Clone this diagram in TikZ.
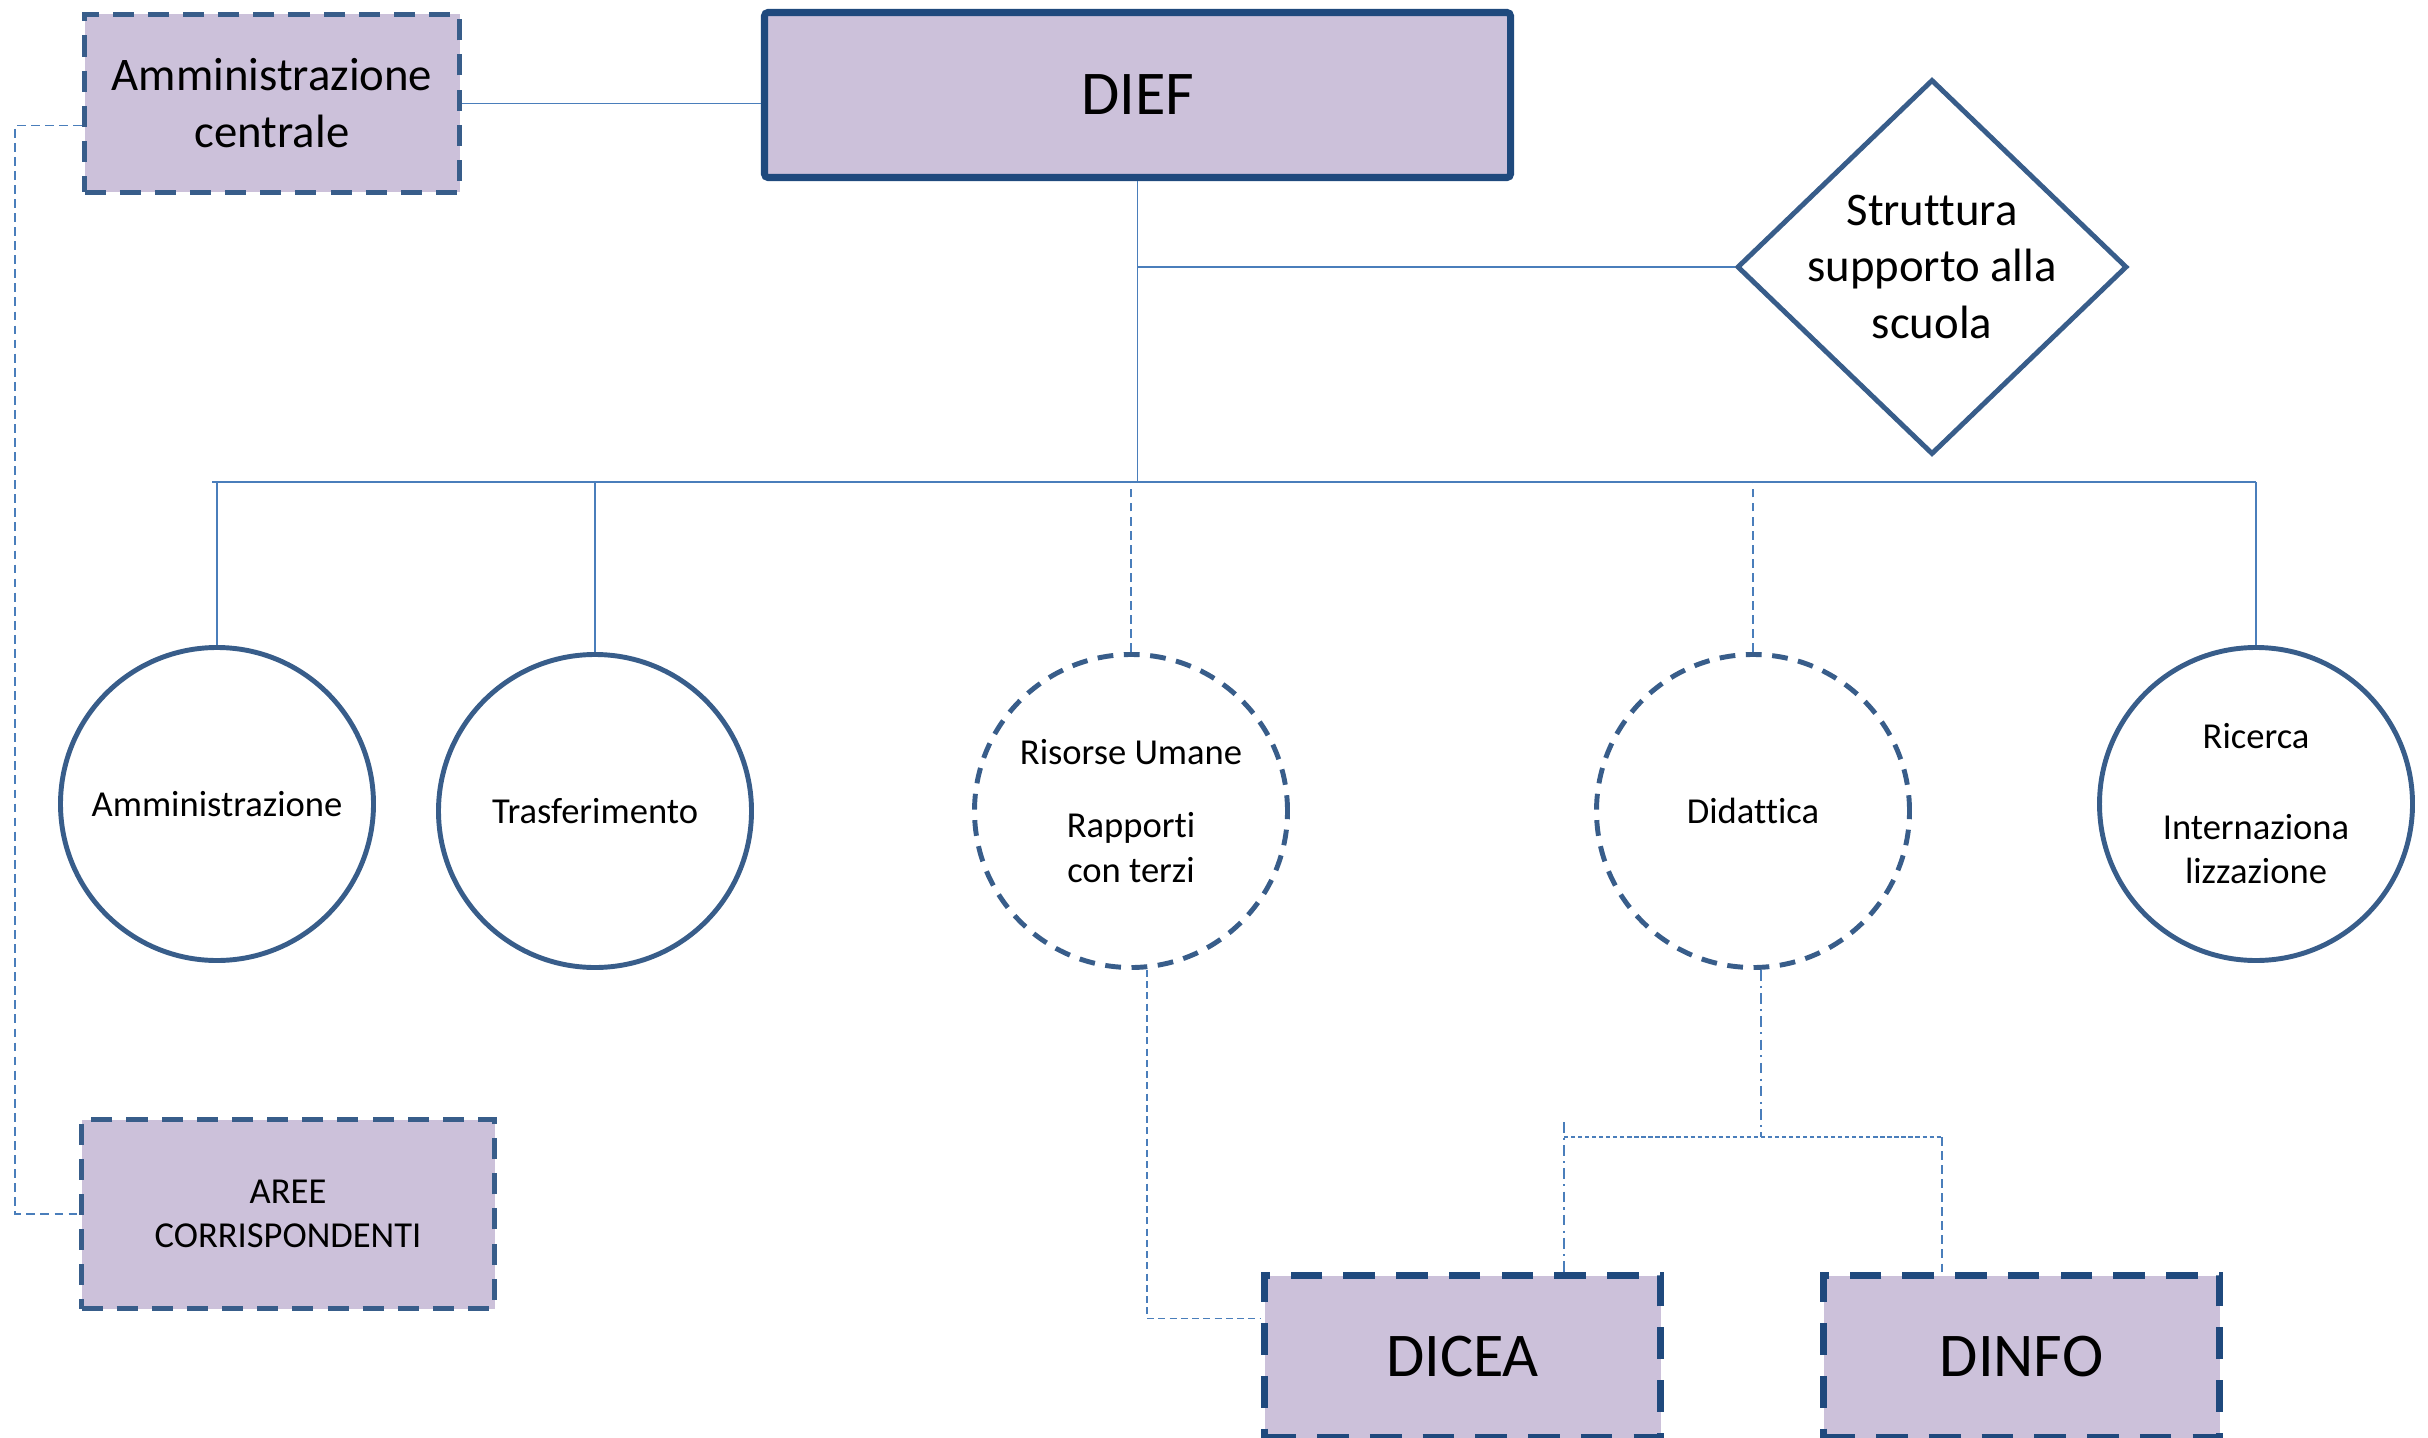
\documentclass[tikz,border=0pt]{standalone}
\usepackage{fontspec}
\setmainfont{Carlito}[Ligatures=NoCommon]
\usepackage{xcolor}
\usepackage{tikz}
\usetikzlibrary{shapes.geometric}
\definecolor{boxfill}{HTML}{CCC1DA}
\definecolor{shapeline}{HTML}{385D8A}
\definecolor{deptline}{HTML}{1F497D}
\definecolor{linkblue}{HTML}{4A7EBB}

\begin{document}
\begin{tikzpicture}[
  big/.style={font=\fontsize{17.7}{21.6}\selectfont},
  mid/.style={font=\fontsize{13.3}{16.2}\selectfont},
  small/.style={font=\fontsize{10.4}{12.7}\selectfont},
  head/.style={big, draw=deptline, fill=boxfill, line width=2pt, rounded corners=1pt,
               minimum width=7.46cm, minimum height=1.65cm},
  office/.style={draw=shapeline, fill=boxfill, line width=1.4pt, align=center,
                 dash pattern=on 6pt off 4pt},
  dept/.style={big, draw=deptline, fill=boxfill, line width=2.2pt,
               dash pattern=on 9pt off 6pt, minimum width=3.96cm, minimum height=1.62cm},
  area/.style={small, circle, draw=shapeline, line width=1.4pt, align=center,
               inner sep=0pt, minimum size=3.13cm},
  areadash/.style={area, dash pattern=on 4.5pt off 3pt},
  struct/.style={mid, diamond, draw=shapeline, line width=1.4pt, align=center,
                 inner sep=-3pt, minimum width=3.9cm, minimum height=3.75cm},
  link/.style={draw=linkblue, line width=0.5pt},
  dashlink/.style={link, dash pattern=on 2.5pt off 1.5pt},
  dotlink/.style={link, dash pattern=on 1.2pt off 0.8pt},
  dashdotlink/.style={link, dash pattern=on 3pt off 1.5pt on 0.6pt off 1.5pt}
]
  \useasboundingbox (0,0) rectangle (24.28,-14.38);

  \node[head] (dief) at (11.375,-0.95) {DIEF};
  \node[office, mid, minimum width=3.75cm, minimum height=1.78cm] (acentr) at (2.72,-1.035)
    {Amministrazione\\centrale};
  \node[struct] (supporto) at (19.32,-2.67) {Struttura\\supporto alla\\scuola};
  \node[office, small, minimum width=4.13cm, minimum height=1.89cm] (aree) at (2.88,-12.14)
    {AREE\\CORRISPONDENTI};

  \node[area] (amm) at (2.17,-8.04) {Amministrazione};
  \node[area] (trasf) at (5.95,-8.11) {Trasferimento};
  \node[areadash] (risorse) at (11.31,-8.11) {Risorse Umane\\[8pt]Rapporti\\con terzi};
  \node[areadash] (didattica) at (17.53,-8.11) {Didattica};
  \node[area] (ricerca) at (22.56,-8.04) {Ricerca\\[13pt]Internaziona\\lizzazione};

  \node[dept] (dicea) at (14.625,-13.565) {DICEA};
  \node[dept] (dinfo) at (20.215,-13.565) {DINFO};

  \coordinate (busL) at (2.12,-4.82);
  \coordinate (busR) at (22.56,-4.82);
  \coordinate (split) at (17.61,-11.37);
  \coordinate (jl) at (15.64,-11.37);
  \coordinate (jr) at (19.42,-11.37);

  \draw[link] (acentr.east) -- (acentr.east -| dief.west);
  \draw[link] (dief.south) -- (dief.south |- busL);
  \draw[link] (supporto.west) -- (supporto.west -| dief.south);
  \draw[link] (busL) -- (busR);
  \draw[link] (amm.north) -- (amm.north |- busL);
  \draw[link] (trasf.north) -- (trasf.north |- busL);
  \draw[link] (ricerca.north) -- (ricerca.north |- busL);
  \draw[dashlink] (risorse.north) -- (risorse.north |- busL);
  \draw[dashlink] (didattica.north) -- (didattica.north |- busL);

  \draw[dashlink] ([yshift=-0.22cm]acentr.west) -- ++(-0.67,0) |- (aree.west);
  \draw[link, dash pattern=on 2pt off 1.2pt] ([xshift=0.16cm]risorse.south)
    |- ([yshift=0.38cm]dicea.west);
  \draw[dashdotlink] (didattica.south -| split) -- (split);
  \draw[dotlink] (jl) -- (jr);
  \draw[dashdotlink] ([yshift=0.15cm]jl) -- (jl |- dicea.north);
  \draw[dashlink] (jr) -- (jr |- dinfo.north);
\end{tikzpicture}
\end{document}
